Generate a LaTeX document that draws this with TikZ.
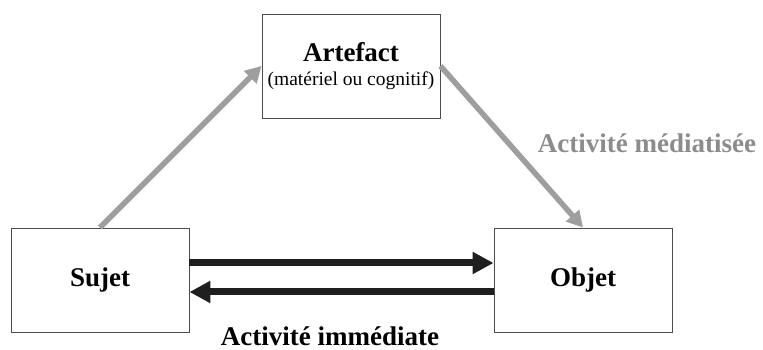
\documentclass[tikz,border=0pt]{standalone}
\usepackage{fontspec}
\setmainfont{Liberation Serif}
\usetikzlibrary{arrows.meta,positioning}

\begin{document}
\begin{tikzpicture}[x=1pt, y=1pt,
  box/.style={rectangle, draw=black!70, line width=0.9pt, minimum width=178pt, minimum height=104pt, inner sep=0pt, font=\fontsize{27}{30}\selectfont\bfseries},
  grayarrow/.style={draw=black!38, line width=5.5pt, -{Triangle[length=16pt, width=17pt]}},
  blackarrow/.style={draw=black!88, line width=7pt, -{Triangle[length=21pt, width=21pt]}},
  label/.style={font=\fontsize{27}{30}\selectfont\bfseries}
]
  \useasboundingbox (0,0) rectangle (763,350);

  % -- Boxes --
  \node[box, align=center] (artefact) at (351,284) {Artefact\\[-6pt]{\fontsize{19.5}{22}\selectfont\mdseries (matériel ou cognitif)}};
  \node[box] (sujet) at (100,70) {Sujet};
  \node[box] (objet) at (583,70) {Objet};

  % -- Mediated activity --
  \draw[grayarrow] (sujet.north) -- (artefact.west);
  \draw[grayarrow] (artefact.east) -- (objet.north);
  \node[label, text=black!45] (mediat) at (647,207) {Activité médiatisée};

  % -- Immediate activity --
  \draw[blackarrow] ([yshift=17pt]sujet.east) -- ([yshift=17pt]objet.west);
  \draw[blackarrow] ([yshift=-12pt]objet.west) -- ([yshift=-12pt]sujet.east);
  \node[label] (immed) at (330,14) {Activité immédiate};

\end{tikzpicture}
\end{document}
